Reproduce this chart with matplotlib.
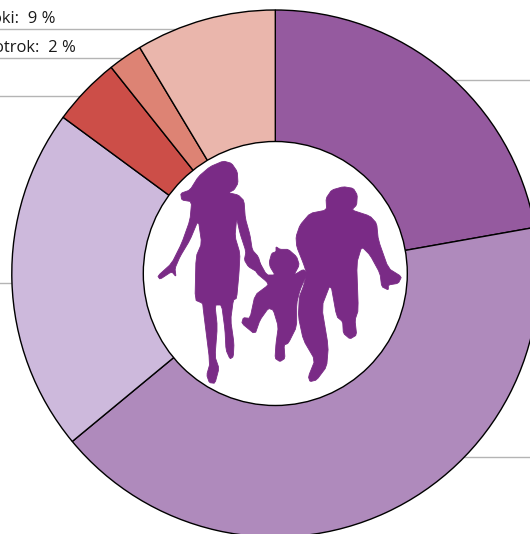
import numpy as np
import matplotlib
matplotlib.use("Agg")
import matplotlib.pyplot as plt
from matplotlib.patches import Polygon, Circle

# Share of each ring segment, clockwise from the top, in per cent
shares = [22.2, 41.8, 21.1, 4.2, 2.1, 8.6]
colors = ["#955A9F", "#AF8ABC", "#CDB9DC", "#CC4E48", "#DD8374", "#EAB6AC"]
label_texts = ["oki:  9 %", "otrok:  2 %"]

W, H = 530, 534
fig = plt.figure(figsize=(W / 100, H / 100), dpi=100)
ax = fig.add_axes([0, 0, 1, 1])

CX, CY, R, RI = 275.3, H - 273.5, 263.5, 132

for y0, x0, x1 in [(29, 0, 200), (58, 0, 200), (96, 0, 200), (283, 0, 60), (80, 400, 530), (457, 400, 530)]:
    ax.plot([x0, x1], [H - y0, H - y0], color="#b4b4b4", lw=1.0, zorder=1)

wedges, _ = ax.pie(shares, colors=colors, startangle=90, counterclock=False,
                   center=(CX, CY), radius=R,
                   wedgeprops=dict(edgecolor="black", linewidth=1.0, zorder=2))
ax.add_patch(Circle((CX, CY), RI, facecolor="white", edgecolor="black", lw=1.0, zorder=3))

woman = [(250,63),(275,70),(292,95),(294,130),(282,150),(265,158),(295,165),(312,182),(316,235),(330,285),(337,330),(355,350),(365,385),(350,395),(325,380),(313,360),(318,335),(300,280),(290,235),(285,290),(300,340),(297,400),(290,475),(280,480),(272,540),(282,610),(280,650),(270,657),(258,630),(255,570),(245,495),(225,495),(232,560),(225,650),(237,685),(225,730),(208,728),(200,705),(210,670),(190,510),(188,490),(165,480),(168,350),(185,310),(175,240),(150,300),(120,350),(105,385),(108,410),(95,395),(60,418),(53,408),(95,370),(125,310),(150,240),(155,185),(125,180),(122,160),(150,150),(175,110),(210,80)]
child = [(408,320),(420,328),(445,328),(470,350),(478,375),(462,405),(490,388),(502,400),(480,450),(470,490),(470,560),(445,610),(432,615),(435,655),(420,665),(405,655),(408,610),(415,560),(400,510),(385,505),(360,540),(345,583),(305,550),(310,533),(330,535),(345,465),(385,435),(380,425),(350,400),(340,370),(355,360),(380,405),(405,405),(390,380),(388,365),(395,340),(408,335)]
man = [(610,140),(640,145),(652,165),(650,195),(635,210),(690,228),(710,250),(715,300),(745,385),(785,410),(775,430),(745,435),(745,450),(725,440),(720,400),(690,345),(665,320),(650,370),(655,510),(645,540),(650,585),(630,597),(610,580),(608,545),(590,530),(572,430),(545,500),(565,620),(560,680),(530,720),(510,725),(505,710),(525,660),(490,600),(475,530),(478,470),(490,440),(500,400),(490,370),(470,320),(468,290),(480,255),(510,220),(560,210),(558,175),(575,150)]

def chaikin(pts):
    p = np.array(pts, float)
    q = np.roll(p, -1, axis=0)
    out = np.empty((2 * len(p), 2))
    out[0::2] = 0.85 * p + 0.15 * q
    out[1::2] = 0.15 * p + 0.85 * q
    return out

for shape in (woman, child, man):
    p = chaikin(shape)
    xy = np.column_stack([140 + p[:, 0] / 3, H - (140 + p[:, 1] / 3)])
    ax.add_patch(Polygon(xy, closed=True, facecolor="#7A2B86", edgecolor="#7A2B86", lw=0.6, zorder=4))

font = ["Open Sans", "DejaVu Sans"]
ax.text(55, H - 19, label_texts[0], ha="right", va="center", fontsize=12, family=font, color="#1a1a1a", zorder=5)
ax.text(76, H - 47.5, label_texts[1], ha="right", va="center", fontsize=12, family=font, color="#1a1a1a", zorder=5)

ax.set_xlim(0, W)
ax.set_ylim(0, H)
ax.set_aspect("auto")
ax.axis("off")
fig.savefig("out.png", dpi=100, facecolor="white")
